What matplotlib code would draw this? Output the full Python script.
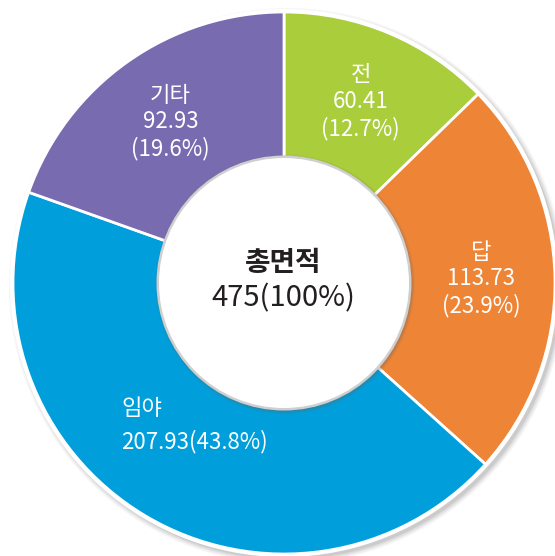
import numpy as np
import matplotlib.pyplot as plt
from matplotlib.patches import Circle

plt.rcParams['font.family'] = ['Noto Sans CJK KR', 'DejaVu Sans']

# 토지 면적 구성
labels = ["전", "답", "임야", "기타"]
values = [60.41, 113.73, 207.93, 92.93]
shares = [12.7, 23.9, 43.8, 19.6]
colors = ["#a9cd3b", "#ee8536", "#009fdc", "#786baf"]
total_label = "총면적"
total_value = "475(100%)"

W, H = 555, 556
cx, cy = 284, 273
R = 271
R_in = 126

fig = plt.figure(figsize=(W / 100, H / 100), dpi=100)
ax = fig.add_axes([0, 0, 1, 1])

# 바깥 그림자 + 흰 테두리
for i, a in enumerate([0.05, 0.07, 0.09, 0.12]):
    ax.add_patch(Circle((cx + 3, cy - 3), R + 7 - i * 1.5, color="#555555",
                        alpha=a, lw=0, zorder=0))
ax.add_patch(Circle((cx, cy), R + 3, color="white", lw=0, zorder=1))

wedges, _ = ax.pie(values, radius=R, center=(cx, cy), startangle=90,
                   counterclock=False, colors=colors,
                   wedgeprops=dict(edgecolor="white", linewidth=2))
for w in wedges:
    w.set_zorder(2)

# 가운데 원
for i, a in enumerate([0.08, 0.12, 0.18]):
    ax.add_patch(Circle((cx + 1, cy - 1.5), R_in + 4 - i * 1.2, color="#666666",
                        alpha=a, lw=0, zorder=3))
ax.add_patch(Circle((cx, cy), R_in + 1.5, color="#cfcfcf", lw=0, zorder=4))
ax.add_patch(Circle((cx, cy), R_in - 1, color="white", lw=0, zorder=5))

ax.text(cx - 1, cy + 20, total_label, ha="center", va="center",
        fontsize=20, fontweight="bold", color="#231f20", zorder=6)
ax.text(cx - 1, cy - 15, total_value, ha="center", va="center",
        fontsize=21, color="#231f20", zorder=6)

# 조각 라벨
for w, lab, v, s in zip(wedges, labels, values, shares):
    mid = np.deg2rad((w.theta1 + w.theta2) / 2)
    if lab == "임야":
        ax.text(cx - 163, cy - 142, f"{lab}\n{v:.2f}({s}%)", ha="left",
                va="center", fontsize=16, fontweight="light", color="white",
                linespacing=1.5, zorder=6)
    else:
        x = cx + 197 * np.cos(mid)
        y = cy + 197 * np.sin(mid)
        ax.text(x, y, f"{lab}\n{v:.2f}\n({s}%)", ha="center", va="center",
                fontsize=16, fontweight="light", color="white",
                linespacing=1.2, zorder=6)

ax.set_xlim(0, W)
ax.set_ylim(0, H)
ax.set_aspect("equal")
ax.axis("off")
fig.savefig("out.png", dpi=100, facecolor="white")
